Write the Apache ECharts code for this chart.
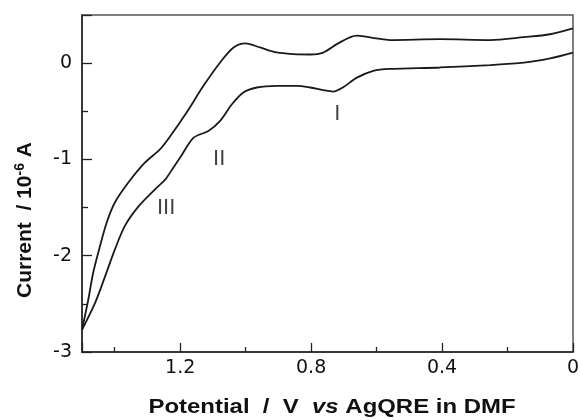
<!DOCTYPE html>
<html>
<head>
<meta charset="utf-8">
<script src="https://cdn.jsdelivr.net/npm/echarts@6/dist/echarts.min.js"></script>
<style>html,body{margin:0;padding:0;background:#fff}#c{width:580px;height:420px}</style>
</head>
<body>
<div id="c"></div>
<script>
// Return (upper) branch: potential (V), current (10^-6 A)
var upperV = [1.50,1.481,1.466,1.445,1.425,1.40,1.359,1.308,1.262,1.23,1.18,1.129,1.078,1.037,1.0,0.956,0.905,0.854,0.803,0.763,0.72,0.68,0.66,0.60,0.56,0.406,0.253,0.15,0.07,0];
var upperI = [-2.77,-2.46,-2.18,-1.90,-1.66,-1.45,-1.243,-1.034,-0.896,-0.757,-0.51,-0.236,0.007,0.163,0.205,0.163,0.111,0.094,0.09,0.11,0.2,0.27,0.285,0.257,0.24,0.25,0.24,0.27,0.30,0.36];
// Forward (lower) branch
var lowerV = [1.50,1.46,1.43,1.40,1.369,1.328,1.277,1.246,1.22,1.2,1.159,1.114,1.078,1.042,1.007,0.966,0.905,0.844,0.803,0.763,0.733,0.702,0.66,0.61,0.56,0.406,0.253,0.15,0.07,0];
var lowerI = [-2.77,-2.49,-2.22,-1.94,-1.69,-1.49,-1.31,-1.21,-1.08,-0.98,-0.774,-0.705,-0.60,-0.427,-0.305,-0.253,-0.236,-0.236,-0.253,-0.28,-0.295,-0.25,-0.15,-0.08,-0.06,-0.045,-0.02,0.005,0.05,0.11];
// Peak labels
var peakNames = ['I','II','III'];
var peakV = [0.72,1.081,1.243];
var peakI = [-0.53,-1.0,-1.5];
// Axis ticks
var xTickLabels = ['0','0.4','0.8','1.2'];
var yTickLabels = ['-3','-2','-1','0'];

function pairs(xs, ys){ return xs.map(function(x,i){ return [x, ys[i]]; }); }

var chart = echarts.init(document.getElementById('c'), null, {renderer:'canvas'});
var lineStyle = {color:'#1a1a1a', width:1.8};
chart.setOption({
  animation:false,
  grid:{left:82,right:7,top:15,bottom:68,show:true,borderColor:'#555',borderWidth:1.5,outerBoundsMode:'none'},
  xAxis:{
    type:'value', inverse:true, min:0, max:1.5, interval:0.4,
    axisLine:{onZero:false,lineStyle:{color:'#222',width:1.5}},
    axisTick:{inside:true,length:9,lineStyle:{color:'#222',width:1.3}},
    minorTick:{show:true,splitNumber:2,length:5,lineStyle:{color:'#222',width:1.3}},
    splitLine:{show:false},
    axisLabel:{showMaxLabel:false,margin:7,color:'#111',fontSize:19,fontFamily:'DejaVu Sans',
      formatter:function(v){ var s=(Math.round(v*10)/10).toString(); return xTickLabels.indexOf(s)>=0?s:''; }}
  },
  yAxis:{
    type:'value', min:-3, max:0.5, interval:1,
    axisLine:{onZero:false,lineStyle:{color:'#222',width:1.5}},
    axisTick:{inside:true,length:10,lineStyle:{color:'#222',width:1.3}},
    minorTick:{show:true,splitNumber:2,length:6,lineStyle:{color:'#222',width:1.3}},
    splitLine:{show:false},
    axisLabel:{showMaxLabel:false,margin:10,color:'#111',fontSize:19,fontFamily:'DejaVu Sans',
      formatter:function(v){ var s=String(Math.round(v)); return yTickLabels.indexOf(s)>=0?s:''; }}
  },
  series:[
    {type:'line',data:pairs(upperV,upperI),smooth:0.3,symbol:'none',lineStyle:lineStyle,z:3},
    {type:'line',data:pairs(lowerV,lowerI),smooth:0.3,symbol:'none',lineStyle:lineStyle,z:3},
    {type:'scatter',symbolSize:0,data:peakNames.map(function(n,i){return [peakV[i],peakI[i],n];}),
      label:{show:true,position:'inside',formatter:function(p){return p.value[2];},
        color:'#111',fontSize:22,fontFamily:'Liberation Sans'}}
  ],
  graphic:[
    {type:'text',x:332,y:407,scaleX:1.14,style:{
      text:'{b|Potential  /  V  }{i|vs}{b| AgQRE in DMF}',
      align:'center',verticalAlign:'middle',
      rich:{b:{fontFamily:'Liberation Sans',fontWeight:'bold',fontSize:21,fill:'#111'},
            i:{fontFamily:'Liberation Sans',fontWeight:'bold',fontStyle:'italic',fontSize:21,fill:'#111'}}}},
    {type:'text',x:25,y:220,rotation:Math.PI/2,style:{
      text:'{b|Current  / 10}{s|-6}{b| A}',
      align:'center',verticalAlign:'middle',
      rich:{b:{fontFamily:'Liberation Sans',fontWeight:'bold',fontSize:21,fill:'#111',lineHeight:24},
            s:{fontFamily:'Liberation Sans',fontWeight:'bold',fontSize:14,fill:'#111',verticalAlign:'top',lineHeight:24}}}}
  ]
});
</script>
</body>
</html>
